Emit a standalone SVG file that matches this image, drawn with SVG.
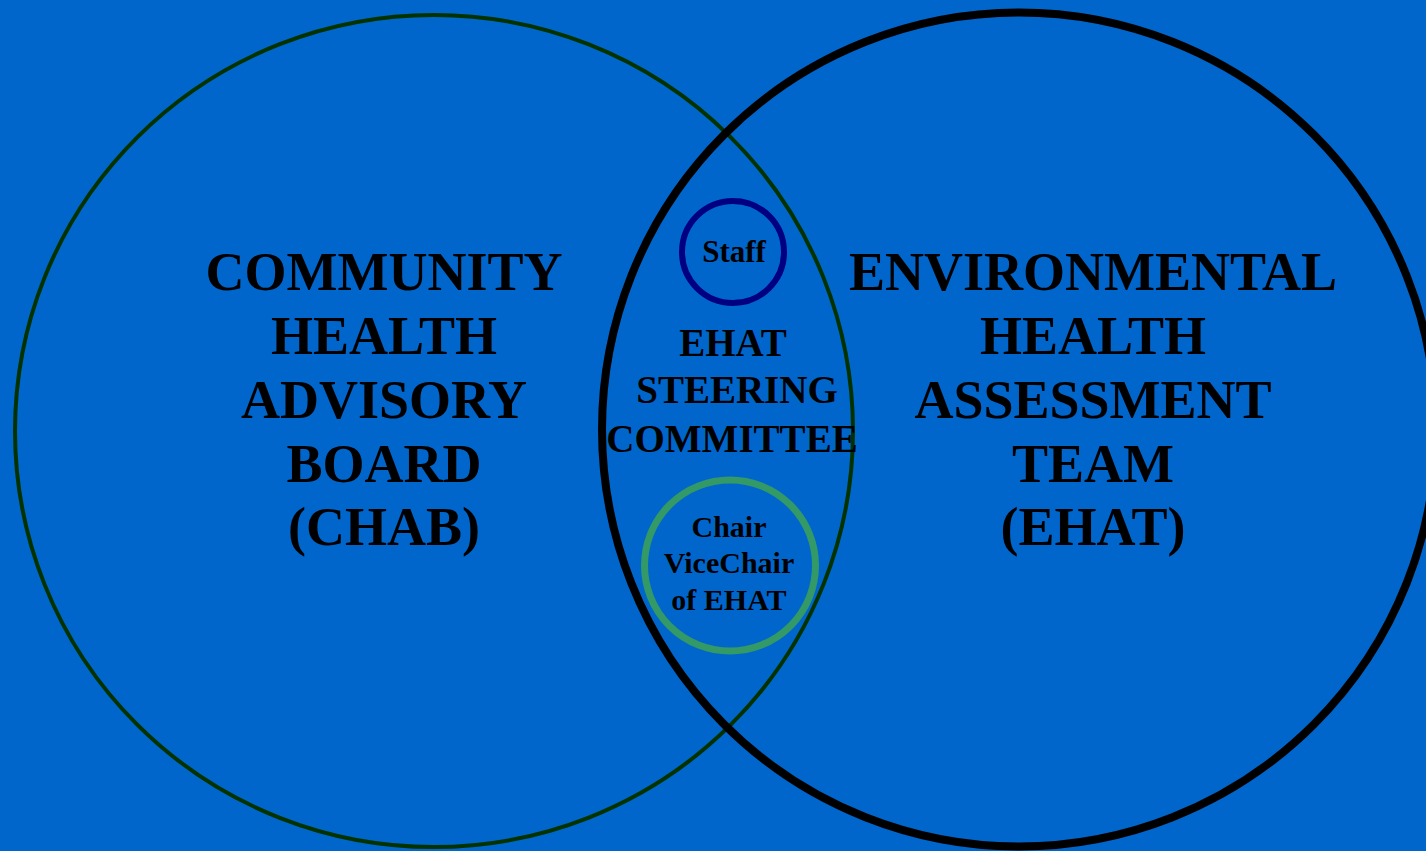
<svg xmlns="http://www.w3.org/2000/svg" width="1426" height="851" viewBox="0 0 1426 851">
<style>
text{font-family:"Liberation Serif","Times New Roman",serif;font-weight:bold;fill:#000;text-anchor:middle}
.big{font-size:54px}
.mid{font-size:39px}
.sm{font-size:30px}
.ring{fill:none}
</style>
<rect x="0" y="0" width="1426" height="851" fill="#0066CC"/>
<g id="chab">
<ellipse class="ring" cx="434" cy="431" rx="419" ry="416" stroke="#003300" stroke-width="4"/>
<text class="big" x="384" y="290">COMMUNITY</text>
<text class="big" x="384" y="354">HEALTH</text>
<text class="big" x="384" y="418">ADVISORY</text>
<text class="big" x="384" y="482">BOARD</text>
<text class="big" x="384" y="545">(CHAB)</text>
</g>
<g id="ehat">
<circle class="ring" cx="1019" cy="429.5" r="417" stroke="#000000" stroke-width="8"/>
<text class="big" x="1093" y="290">ENVIRONMENTAL</text>
<text class="big" x="1093" y="354">HEALTH</text>
<text class="big" x="1093" y="418">ASSESSMENT</text>
<text class="big" x="1093" y="482">TEAM</text>
<text class="big" x="1093" y="545">(EHAT)</text>
</g>
<g id="steering">
<text class="mid" x="733" y="356">EHAT</text>
<text class="mid" x="737" y="403">STEERING</text>
<text class="mid" x="732" y="452">COMMITTEE</text>
</g>
<g id="staff">
<circle class="ring" cx="733" cy="252" r="51" stroke="#000080" stroke-width="6"/>
<text class="sm" x="734" y="262" style="font-size:31px">Staff</text>
</g>
<g id="chair">
<circle class="ring" cx="730" cy="565.5" r="85.5" stroke="#339966" stroke-width="7"/>
<text class="sm" x="729" y="537">Chair</text>
<text class="sm" x="729" y="573">ViceChair</text>
<text class="sm" x="729" y="610">of EHAT</text>
</g>
<g id="connectors"/>
</svg>
